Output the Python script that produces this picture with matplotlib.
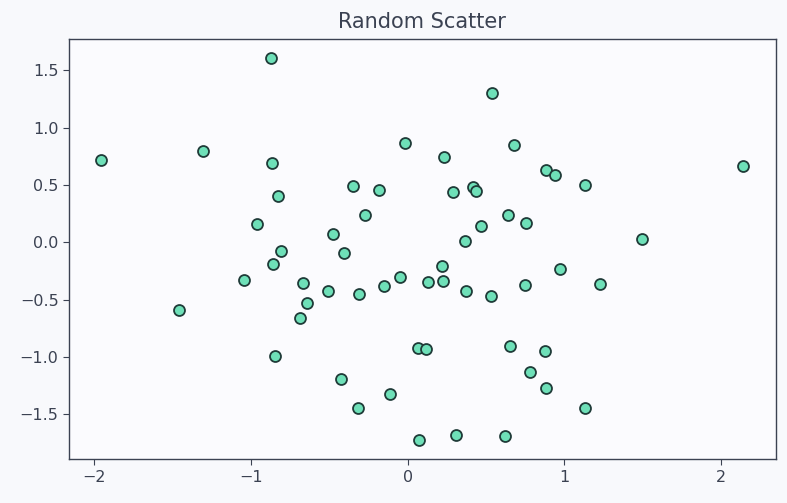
import matplotlib
matplotlib.use("Agg")
import matplotlib.pyplot as plt

x_vals = [-1.955, -1.303, -0.869, -0.863, -0.824, -0.958, -0.805, -0.856, -1.042, -1.457,
          -0.665, -0.639, -0.684, -0.511, -0.843, -0.428, -0.319, -0.115, -0.313, -0.153,
          -0.351, -0.185, -0.275, -0.473, -0.409, -0.019, 0.230, 0.288, 0.415, 0.435,
          0.466, 0.364, 0.537, 0.677, 0.639, 0.754, 0.882, 0.939, 1.131, 1.495,
          2.141, 0.217, -0.051, 0.128, 0.224, 0.371, 0.530, 0.748, 0.971, 1.227,
          0.064, 0.115, 0.652, 0.875, 0.780, 0.882, 1.131, 0.070, 0.307, 0.620]
y_vals = [0.717, 0.796, 1.606, 0.691, 0.404, 0.160, -0.076, -0.189, -0.329, -0.590,
          -0.355, -0.529, -0.659, -0.425, -0.991, -1.192, -1.445, -1.323, -0.451, -0.381,
          0.491, 0.456, 0.238, 0.072, -0.093, 0.867, 0.744, 0.439, 0.482, 0.447,
          0.142, 0.011, 1.302, 0.848, 0.238, 0.168, 0.630, 0.587, 0.500, 0.029,
          0.665, -0.206, -0.302, -0.346, -0.337, -0.425, -0.468, -0.372, -0.233, -0.364,
          -0.921, -0.930, -0.904, -0.948, -1.131, -1.270, -1.445, -1.724, -1.680, -1.689]

title = "Random Scatter"

text_color = "#3b4252"
fig = plt.figure(figsize=(7.87, 5.03), dpi=100, facecolor="#f8f9fc")
ax = fig.add_axes([69.0/787, (503-459.3)/503, (775.5-69.0)/787, (459.3-39)/503])
ax.set_facecolor("#fbfbfe")
ax.scatter(x_vals, y_vals, s=62, c="#6ee0b8", edgecolors="#1f3b38", linewidths=1.3, zorder=3)
ax.set_title(title, fontsize=15, color=text_color, pad=8)
for sp in ax.spines.values():
    sp.set_color(text_color)
    sp.set_linewidth(1.0)
ax.tick_params(colors=text_color, labelsize=11.5, length=4)
ax.set_xticks([-2, -1, 0, 1, 2])
ax.set_yticks([-1.5, -1.0, -0.5, 0.0, 0.5, 1.0, 1.5])
fig.savefig("out.png", dpi=100, facecolor=fig.get_facecolor())
